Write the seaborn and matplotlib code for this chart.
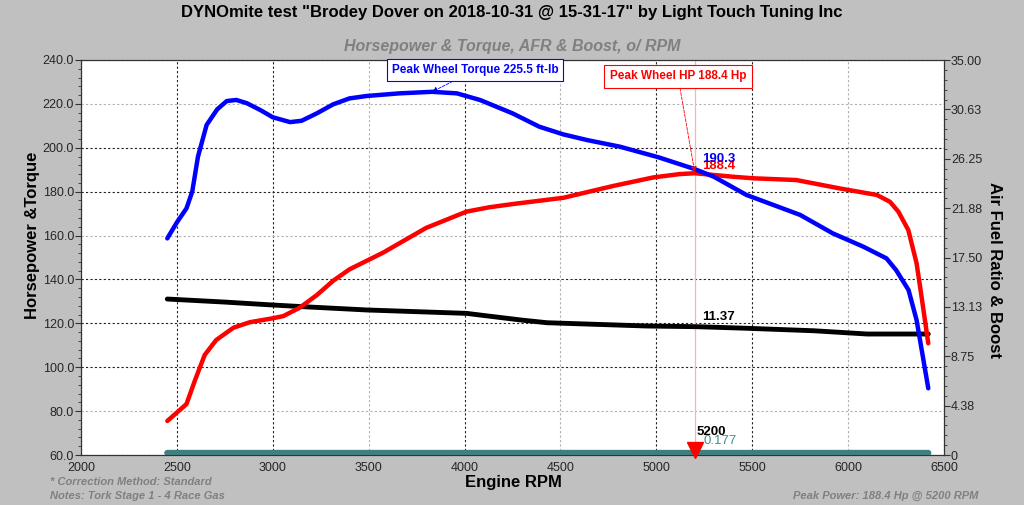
import numpy as np
import pandas as pd
import matplotlib
matplotlib.use("Agg")
import matplotlib.pyplot as plt
import matplotlib.transforms as mtransforms
from matplotlib.ticker import MultipleLocator, FixedLocator
import seaborn as sns

# ── Data ─────────────────────────────────────────────────────────────────────
tq_rpm = [2450, 2500, 2550, 2580, 2610, 2655, 2710, 2760, 2810, 2865, 2935, 3000,
          3090, 3150, 3230, 3315, 3400, 3490, 3660, 3830, 3960, 4080, 4250, 4390,
          4515, 4640, 4810, 5010, 5200, 5300, 5470, 5750, 5920, 6080, 6200, 6250,
          6315, 6357, 6418]
torque = [158.7, 166.0, 172.4, 180.0, 196.0, 210.4, 217.5, 221.3, 221.8, 220.3,
          217.2, 213.9, 211.7, 212.3, 215.7, 219.8, 222.5, 223.6, 224.8, 225.5,
          224.8, 221.8, 215.7, 209.6, 206.1, 203.5, 200.5, 195.7, 190.3, 186.8,
          178.5, 169.4, 161.0, 154.9, 149.6, 144.3, 135.2, 121.5, 90.4]

hp_rpm = [2450, 2550, 2595, 2645, 2705, 2795, 2880, 3000, 3055, 3140, 3230, 3315,
          3400, 3575, 3800, 4010, 4130, 4255, 4515, 4775, 4985, 5120, 5200, 5400,
          5505, 5730, 5955, 6150, 6218, 6262, 6314, 6357, 6383, 6418]
hp = [75.5, 83.2, 94.2, 105.6, 112.4, 118.0, 120.5, 122.3, 123.3, 127.1, 132.9,
      139.4, 144.6, 152.2, 163.5, 170.9, 172.9, 174.4, 177.2, 182.6, 186.5, 188.0,
      188.4, 186.8, 186.1, 185.3, 181.5, 178.5, 175.4, 170.9, 162.5, 147.4, 132.1,
      110.9]

afr_rpm = [2450, 2750, 3000, 3160, 3490, 4010, 4130, 4300, 4430, 4950, 5210, 5470,
           5820, 6100, 6418]
afr = [13.82, 13.55, 13.29, 13.14, 12.85, 12.55, 12.30, 11.95, 11.72, 11.43, 11.37,
       11.23, 11.01, 10.72, 10.72]

boost_rpm = [2450, 3500, 4500, 5200, 6000, 6418]
boost = [0.18, 0.18, 0.18, 0.177, 0.18, 0.18]

peak_rpm = 5200
peak_hp = 188.4
peak_tq_rpm = 3830
peak_tq = 225.5
tq_at_peak = 190.3
afr_at_peak = 11.37
boost_at_peak = 0.177

x_ticks = list(range(2000, 6501, 500))
left_ticks = list(range(60, 241, 20))
right_ticks = [0, 4.38, 8.75, 13.13, 17.50, 21.88, 26.25, 30.63, 35.00]
right_labels = ["0", "4.38", "8.75", "13.13", "17.50", "21.88", "26.25", "30.63", "35.00"]

df_tq = pd.DataFrame({"rpm": tq_rpm, "val": torque})
df_hp = pd.DataFrame({"rpm": hp_rpm, "val": hp})
df_afr = pd.DataFrame({"rpm": afr_rpm, "val": afr})
df_boost = pd.DataFrame({"rpm": boost_rpm, "val": boost})

# ── Style ────────────────────────────────────────────────────────────────────
sns.set_style("white")
plt.rcParams['font.family'] = ['Liberation Sans', 'DejaVu Sans']
GREY_BG = "#c0c0c0"
TXT_GREY = "#808080"

fig = plt.figure(figsize=(10.24, 5.05), dpi=100, facecolor=GREY_BG)
ax = fig.add_axes([81 / 1024, 50 / 505, 863 / 1024, 395 / 505])
ax.set_facecolor("white")
ax2 = ax.twinx()

ax.set_xlim(2000, 6500)
ax.set_ylim(60, 240)
ax2.set_ylim(0, 35)

# grid (some lines drawn lighter, as on the sheet)
ax.set_xticks(x_ticks)
ax.set_yticks(left_ticks)
ax.grid(True, ls=(0, (2, 2)), color="#222222", lw=0.8)
light_x = {3500, 4500, 6000}
light_y = {220, 160, 80}
for v, gl in zip(x_ticks, ax.xaxis.get_gridlines()):
    if v in light_x:
        gl.set_color("#b0b0b0")
for v, gl in zip(left_ticks, ax.yaxis.get_gridlines()):
    if v in light_y:
        gl.set_color("#b0b0b0")
ax.set_axisbelow(True)

ax.axvline(peak_rpm, color="#ffb0b0", lw=0.9, zorder=1)

# curves
sns.lineplot(data=df_afr, x="rpm", y="val", ax=ax2, color="black", lw=3.5,
             estimator=None, sort=False, zorder=3)
sns.lineplot(data=df_boost, x="rpm", y="val", ax=ax2, color="#3f7f7f", lw=4.5,
             estimator=None, sort=False, zorder=3)
ax2.set_zorder(ax.get_zorder() + 1)
ax2.patch.set_visible(False)
sns.lineplot(data=df_hp, x="rpm", y="val", ax=ax2, color="red", lw=3.2,
             estimator=None, sort=False, zorder=4,
             transform=ax.transData)
sns.lineplot(data=df_tq, x="rpm", y="val", ax=ax2, color="blue", lw=3.2,
             estimator=None, sort=False, zorder=5,
             transform=ax.transData)

# ticks
ax.xaxis.set_minor_locator(MultipleLocator(100))
ax.yaxis.set_minor_locator(MultipleLocator(4))
ax.tick_params(axis="both", which="major", direction="out", length=4, width=0.8,
               labelsize=9, color="#333333", pad=1)
ax.tick_params(axis="both", which="minor", direction="out", length=2, width=0.6,
               color="#333333")
ax.set_yticklabels([f"{v:.1f}" for v in left_ticks])
ax2.yaxis.set_major_locator(FixedLocator(right_ticks))
ax2.set_yticklabels(right_labels)
ax2.yaxis.set_minor_locator(MultipleLocator(35 / 40))
ax2.tick_params(axis="y", which="major", direction="out", length=4, width=0.8,
                labelsize=9, color="#333333", pad=1)
ax2.tick_params(axis="y", which="minor", direction="out", length=2, width=0.6,
                color="#333333")
for a in (ax, ax2):
    for s in a.spines.values():
        s.set_color("#333333")
        s.set_linewidth(0.8)
ax.set_xlabel("")
ax.set_ylabel("")
ax2.set_xlabel("")
ax2.set_ylabel("")

# peak marker and values
trans = mtransforms.blended_transform_factory(ax.transData, ax.transAxes)
ax2.plot([peak_rpm], [0.012], marker="v", color="red", ms=11, transform=trans,
         zorder=6, clip_on=False)
ax2.text(peak_rpm + 10, 0.042, f"{peak_rpm}", transform=trans, fontsize=9.5,
         fontweight="bold", color="black", ha="left", va="bottom", zorder=7)
ax2.text(peak_rpm + 45, boost_at_peak + 0.55, f"{boost_at_peak:.3f}",
         fontsize=9.5, color="#3f8f8f", ha="left", va="bottom", zorder=7)
ax2.text(peak_rpm + 40, afr_at_peak + 0.35, f"{afr_at_peak:.2f}", fontsize=9.5,
         fontweight="bold", color="black", ha="left", va="bottom", zorder=7)
ax2.text(peak_rpm + 40, peak_hp + 0.5, f"{peak_hp:.1f}", transform=ax.transData,
         fontsize=9.5, fontweight="bold", color="red", ha="left", va="bottom", zorder=7)
ax2.text(peak_rpm + 40, tq_at_peak + 1.8, f"{tq_at_peak:.1f}", transform=ax.transData,
         fontsize=9.5, fontweight="bold", color="blue", ha="left", va="bottom", zorder=7)

# peak annotation boxes
ax2.annotate(f"Peak Wheel Torque {peak_tq} ft-lb", xy=(peak_tq_rpm, peak_tq),
             xycoords=ax.transData, xytext=(4054, 235.4), textcoords=ax.transData,
             ha="center", va="center", fontsize=8.5, fontweight="bold", color="blue",
             bbox=dict(boxstyle="square,pad=0.4", fc="white", ec="blue", lw=0.8),
             arrowprops=dict(arrowstyle="-|>", color="blue", lw=0.6, ls="--",
                             mutation_scale=8, shrinkA=0, shrinkB=0), zorder=8)
ax2.annotate(f"Peak Wheel HP {peak_hp} Hp", xy=(peak_rpm, peak_hp + 0.5),
             xycoords=ax.transData, xytext=(5113, 232.5), textcoords=ax.transData,
             ha="center", va="center", fontsize=8.5, fontweight="bold", color="red",
             bbox=dict(boxstyle="square,pad=0.45", fc="white", ec="red", lw=0.8),
             arrowprops=dict(arrowstyle="-|>", color="red", lw=0.6, ls="--",
                             mutation_scale=8, shrinkA=0, shrinkB=0), zorder=8)

# titles and labels
fig.text(0.5, 1 - 12 / 505, 'DYNOmite test "Brodey Dover on 2018-10-31 @ 15-31-17" by Light Touch Tuning Inc',
         ha="center", va="center", fontsize=12, fontweight="bold", color="black")
fig.text(0.5, 1 - 47 / 505, "Horsepower & Torque, AFR & Boost, o/ RPM",
         ha="center", va="center", fontsize=11.5, fontweight="bold", style="italic",
         color=TXT_GREY)
fig.text(513 / 1024, 1 - 483 / 505, "Engine RPM", ha="center", va="center",
         fontsize=12, fontweight="bold", color="black")
fig.text(33 / 1024, 1 - 235 / 505, "Horsepower &Torque", ha="center", va="center",
         rotation=90, fontsize=12, fontweight="bold", color="black")
fig.text(995 / 1024, 1 - 270 / 505, "Air Fuel Ratio & Boost", ha="center", va="center",
         rotation=270, fontsize=12, fontweight="bold", color="black")
fig.text(50 / 1024, 1 - 482 / 505, "* Correction Method: Standard", ha="left",
         va="center", fontsize=8, fontweight="bold", style="italic", color=TXT_GREY)
fig.text(50 / 1024, 1 - 496 / 505, "Notes: Tork Stage 1 - 4 Race Gas", ha="left",
         va="center", fontsize=8, fontweight="bold", style="italic", color=TXT_GREY)
fig.text(978 / 1024, 1 - 496 / 505, f"Peak Power: {peak_hp} Hp @ {peak_rpm} RPM",
         ha="right", va="center", fontsize=8, fontweight="bold", style="italic",
         color=TXT_GREY)

fig.savefig("out.png", dpi=100, facecolor=GREY_BG)
